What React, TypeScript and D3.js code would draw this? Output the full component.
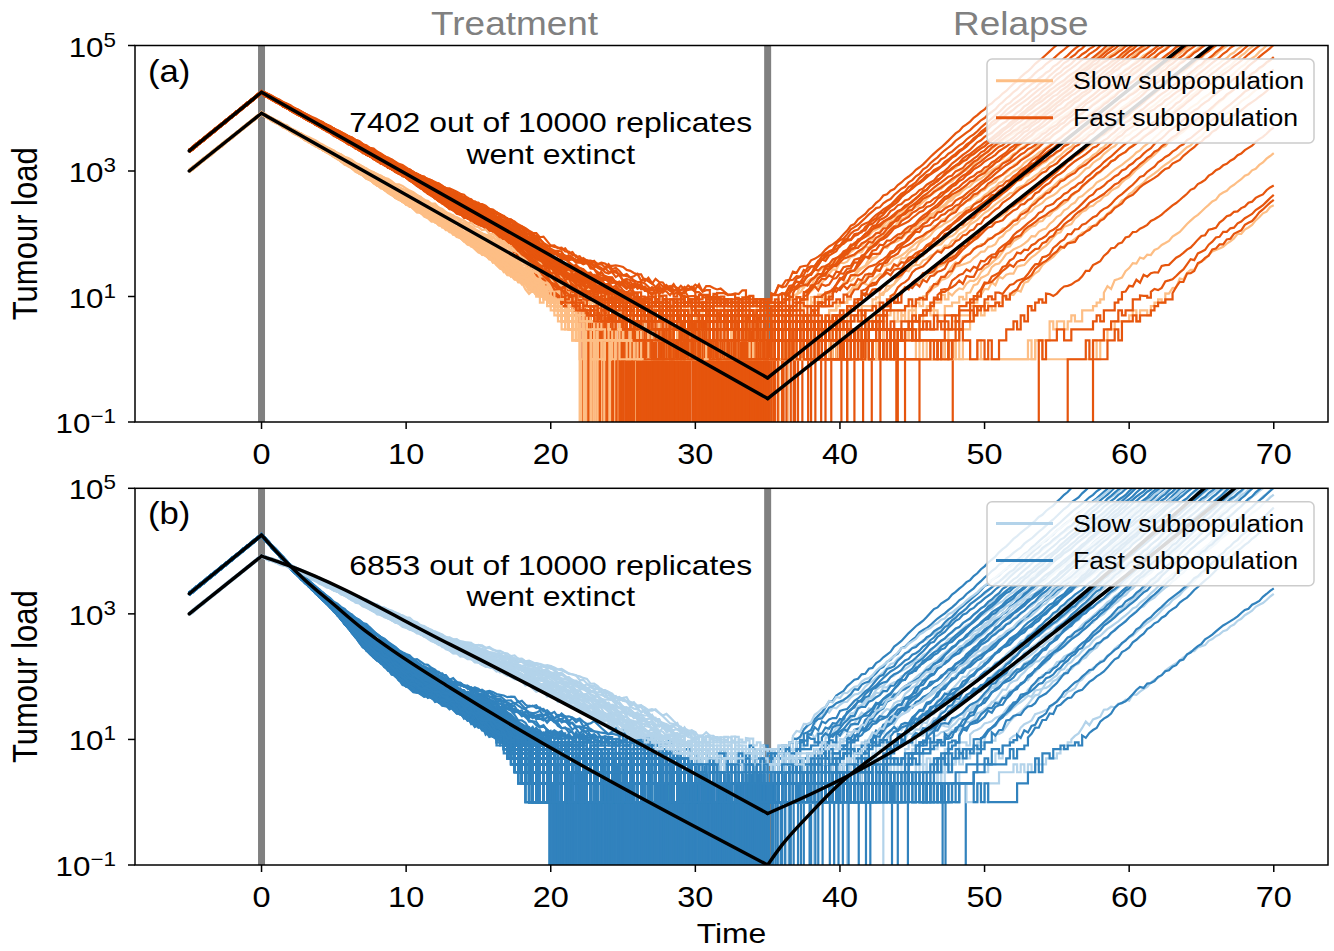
import React from 'react';
import * as d3 from 'd3';

// ---------------- layout ----------------
const W = 1334, H = 951;
const X0 = 135, X1 = 1328;
const PANEL_TOP = [45.5, 488.3];
const PANEL_BOTTOM = [422, 865];
const SX = 1.12; // horizontal text stretch
const FONT = '"Liberation Sans", Arial, Helvetica, sans-serif';

// ---------------- axes data ----------------
const X_DOMAIN = [-8.75, 73.75];
const X_TICKS = [0, 10, 20, 30, 40, 50, 60, 70];
const Y_TICKS = [0.1, 10, 1000, 100000];
const Y_TICK_EXP = ['\u22121', '1', '3', '5'];
const PHASE_LABELS = ['Treatment', 'Relapse'];
const PHASE_CENTERS = [17.5, 52.5];
const EVENT_TIMES = [0, 35];
const PANEL_LABELS = ['(a)', '(b)'];
const EXTINCT_COUNTS = [7402, 6853];
const REPLICATES = 10000;
const LEGEND_LABELS = ['Slow subpopulation', 'Fast subpopulation'];
const COLORS_A = ['#fdbe85', '#e6550d'];
const COLORS_B = ['#b3d3ea', '#3182bd'];

// ---------------- black (deterministic) curves: [time], [log10 load] ----------------
const A_BLACK_FAST_T = [-5, 0, 35, 70];
const A_BLACK_FAST_L = [3.32, 4.255, -0.298, 6.14];
const A_BLACK_SLOW_T = [-5, 0, 35, 70];
const A_BLACK_SLOW_L = [3.0, 3.92, -0.627, 5.78];
const B_BLACK_FAST_T = [-5, 0, 1, 2, 3, 4, 5, 6, 7, 8, 10, 13.07, 35, 36, 37.7, 40, 43, 50.3, 58, 65.2, 70];
const B_BLACK_FAST_L = [3.32, 4.255, 4.0, 3.76, 3.54, 3.34, 3.15, 2.95, 2.76, 2.59, 2.27, 1.82, -1.0, -0.68, -0.24, 0.3, 0.84, 2.08, 3.55, 5.0, 5.95];
const B_BLACK_SLOW_T = [-5, 0, 0.5, 1.75, 13.07, 35, 38, 41.4, 45, 52, 60, 67.3, 70];
const B_BLACK_SLOW_L = [3.0, 3.92, 3.88, 3.78, 2.51, -0.18, 0.13, 0.52, 1.0, 2.2, 3.65, 5.0, 5.5];

// ---------------- replicate bands during treatment (log10 load) ----------------
const A_FAST_BAND_T = [0, 5, 10, 13, 16.5, 20, 23.5, 27, 30, 35];
const A_FAST_BAND_HI = [4.27, 3.68, 3.05, 2.7, 2.33, 1.82, 1.53, 1.25, 1.12, 0.95];
const A_FAST_BAND_LO = [4.24, 3.58, 2.9, 2.42, 1.98, 1.12, 0.45, 0.05, 0.0, 0.0];
const A_SLOW_BAND_T = [0, 5, 10, 13, 15, 20, 22, 25, 30, 35];
const A_SLOW_BAND_HI = [3.93, 3.32, 2.72, 2.34, 2.1, 1.5, 1.3, 1.0, 0.8, 0.8];
const A_SLOW_BAND_LO = [3.91, 3.24, 2.48, 2.06, 1.75, 0.9, 0.3, 0.0, 0.0, 0.0];
const B_FAST_BAND_T = [0, 2, 5, 7.3, 10, 13, 16.5, 18.5, 20, 23.4, 27, 30.4, 33, 35];
const B_FAST_BAND_HI = [4.26, 3.78, 3.18, 2.82, 2.34, 1.97, 1.68, 1.56, 1.47, 1.15, 0.95, 0.8, 0.68, 0.72];
const B_FAST_BAND_LO = [4.25, 3.73, 3.06, 2.42, 1.86, 1.55, 1.0, 0.2, 0.0, 0.0, 0.0, 0.0, 0.0, 0.0];
const B_SLOW_BAND_T = [0, 1.75, 13, 20, 23.4, 27, 30.4, 33, 35];
const B_SLOW_BAND_HI = [3.93, 3.8, 2.62, 2.17, 1.85, 1.45, 1.08, 0.95, 0.88];
const B_SLOW_BAND_LO = [3.91, 3.76, 2.42, 1.7, 1.25, 0.85, 0.45, 0.25, 0.15];

// ---------------- replicates ----------------
// extinct: [band position, extinction time]
const A_FAST_EXTINCT = [
  [0.05, 22.2], [0.15, 22.4], [0.0, 22.9], [0.1, 23.1], [0.25, 23.3], [0.05, 23.6], [0.2, 23.8], [0.3, 24.1], [0.1, 24.2], [0.0, 24.5],
  [0.35, 24.7], [0.15, 24.8], [0.2, 25.2], [0.05, 25.4], [0.4, 25.5], [0.1, 25.8], [0.25, 25.9], [0.3, 26.2], [0.0, 26.4], [0.45, 26.5],
  [0.15, 26.8], [0.2, 27.0], [0.35, 27.1], [0.1, 27.4], [0.3, 27.6], [0.05, 27.7], [0.4, 28.0], [0.2, 28.2], [0.5, 28.3], [0.15, 28.6],
  [0.25, 28.8], [0.35, 28.9], [0.1, 29.2], [0.45, 29.4], [0.3, 29.5], [0.2, 29.8], [0.05, 30.0], [0.4, 30.1], [0.5, 30.4], [0.15, 30.5],
  [0.25, 30.8], [0.35, 30.9], [0.1, 31.2], [0.45, 31.3], [0.2, 31.5], [0.55, 31.8], [0.3, 31.9], [0.05, 32.2], [0.4, 32.3], [0.25, 32.5],
  [0.5, 32.8], [0.15, 32.9], [0.35, 33.1], [0.45, 33.3], [0.2, 33.4], [0.6, 33.6], [0.3, 33.8], [0.1, 33.9], [0.5, 34.1], [0.4, 34.2],
  [0.25, 34.4], [0.55, 34.6], [0.35, 34.7], [0.15, 34.8], [0.45, 34.9], [0.6, 35.0], [0.3, 35.4], [0.2, 35.7], [0.5, 36.0], [0.1, 36.3],
  [0.4, 36.6], [0.25, 36.9], [0.35, 37.4], [0.15, 37.8], [0.45, 38.3], [0.2, 38.7], [0.3, 39.4], [0.1, 40.1], [0.4, 41.0], [0.25, 42.2],
  [0.2, 43.9], [0.1, 47.8],
  [0.12, 22.6], [0.28, 23.4], [0.08, 23.9], [0.18, 24.3], [0.02, 24.9], [0.33, 25.0], [0.22, 25.6], [0.12, 26.0], [0.38, 26.1], [0.05, 26.6],
  [0.27, 26.9], [0.17, 27.2], [0.42, 27.8], [0.08, 27.9], [0.32, 28.4], [0.22, 28.5], [0.12, 29.0], [0.47, 29.1], [0.02, 29.6], [0.37, 29.9],
  [0.27, 30.2], [0.17, 30.6], [0.52, 30.7], [0.07, 31.0], [0.42, 31.4], [0.32, 31.6], [0.12, 31.7], [0.22, 32.0], [0.47, 32.1], [0.02, 32.4],
  [0.37, 32.6], [0.57, 32.7], [0.17, 33.0], [0.27, 33.2], [0.42, 33.5], [0.07, 33.7], [0.52, 33.8], [0.32, 34.0], [0.22, 34.3], [0.47, 34.5],
  [0.12, 34.6], [0.62, 34.75], [0.37, 34.85], [0.27, 34.95], [0.55, 35.1], [0.42, 35.25], [0.18, 35.5], [0.33, 36.1], [0.48, 36.8], [0.23, 37.1],
  [0.13, 38.0], [0.38, 39.0], [0.28, 40.5], [0.18, 41.6], [0.33, 42.8], [0.2, 44.5],
  [0.08, 24.55], [0.22, 24.75], [0.14, 24.95], [0.31, 25.15], [0.04, 25.35], [0.19, 25.45], [0.27, 25.65], [0.11, 25.75], [0.36, 25.95], [0.06, 26.15],
  [0.24, 26.3], [0.16, 26.45], [0.41, 26.7], [0.09, 26.85], [0.29, 26.95], [0.21, 27.15], [0.03, 27.3], [0.34, 27.45], [0.18, 27.55], [0.46, 27.85],
  [0.12, 28.05], [0.26, 28.15], [0.39, 28.45], [0.07, 28.65], [0.31, 28.75], [0.2, 28.95], [0.44, 29.05], [0.13, 29.25], [0.35, 29.35], [0.02, 29.55],
  [0.24, 29.65], [0.49, 29.85], [0.16, 29.95], [0.38, 30.25], [0.1, 30.35], [0.29, 30.55], [0.53, 30.65], [0.21, 30.85], [0.04, 31.05], [0.42, 31.15],
  [0.33, 31.35], [0.15, 31.45], [0.58, 31.65], [0.26, 31.75], [0.09, 31.95], [0.47, 32.05], [0.37, 32.25], [0.19, 32.35], [0.54, 32.55], [0.3, 32.65],
  [0.06, 32.85], [0.43, 32.95], [0.23, 33.05], [0.61, 33.25], [0.35, 33.35], [0.14, 33.55], [0.49, 33.65], [0.28, 33.85], [0.56, 33.95], [0.39, 34.05],
  [0.18, 34.15], [0.63, 34.35], [0.33, 34.45], [0.48, 34.55], [0.24, 34.65], [0.58, 34.8], [0.41, 34.9], [0.52, 34.98],
];
// survivors: [band position, time growth resumes, time reaching 1e5]
const A_FAST_SURVIVE = [
  [1.0, 35, 55.0], [0.95, 35, 55.8], [0.9, 35, 56.5], [0.85, 35, 57.0], [0.95, 35, 57.6], [0.8, 35, 58.0], [0.75, 35, 58.5], [0.9, 35.5, 59.0],
  [0.7, 35, 59.3], [0.85, 36, 59.8], [0.65, 35.5, 60.2], [0.8, 36.5, 60.6], [0.6, 36, 61.0], [0.75, 37, 61.4], [0.7, 37.5, 62.0], [0.55, 37, 62.4],
  [0.65, 38, 62.9], [0.5, 38.5, 63.4], [0.6, 39, 64.0], [0.7, 40, 64.6], [0.55, 40.5, 65.2], [0.45, 41, 65.9], [0.6, 42, 66.6], [0.5, 42.5, 67.3],
  [0.4, 43.5, 68.2], [0.55, 44.5, 69.0], [0.35, 45.5, 70.0], [0.5, 46.5, 71.0], [0.3, 47, 72], [0.45, 48, 73.5], [0.2, 50, 77.5],
];
// re-seeded after extinction: [band position, extinction time, re-seeding time, time reaching 1e5]
const A_FAST_RESEEDED = [[0.2, 40.5, 53.6, 83.0], [0.15, 44.0, 55.7, 83.0], [0.1, 45.5, 57.5, 82.0]];
const A_SLOW_EXTINCT = [
  [0.1, 23.4], [0.0, 23.6], [0.2, 23.8], [0.05, 24.0], [0.15, 24.2], [0.3, 24.4], [0.0, 24.6], [0.1, 24.9], [0.25, 25.2], [0.05, 25.6],
  [0.35, 26.0], [0.15, 26.5], [0.2, 27.2], [0.1, 28.3], [0.3, 29.5], [0.05, 31.0], [0.2, 32.6], [0.4, 34.2], [0.15, 34.9], [0.25, 35.3],
  [0.1, 35.8], [0.3, 36.4], [0.2, 38.0],
  [0.02, 22.0], [0.12, 22.4], [0.07, 22.8], [0.18, 23.1], [0.22, 23.5], [0.03, 23.9], [0.28, 24.7], [0.14, 25.0], [0.08, 25.4], [0.2, 25.9],
  [0.33, 29.0], [0.1, 30.3], [0.25, 33.2], [0.18, 35.1],
  [0.05, 22.1], [0.15, 22.3], [0.0, 22.55], [0.25, 22.7], [0.1, 22.95], [0.2, 23.25], [0.03, 23.45], [0.3, 23.7], [0.12, 24.1], [0.22, 24.35],
  [0.08, 24.55],
];
const A_SLOW_SURVIVE = [
  [0.9, 35, 58.8], [0.8, 35.5, 59.6], [0.95, 35, 60.4], [0.7, 36.5, 61.2], [0.85, 37, 62.0], [0.6, 37.5, 62.7], [0.75, 38.5, 63.5], [0.5, 39, 64.3],
  [0.65, 40, 65.0], [0.55, 41, 66.0], [0.45, 42, 66.8], [0.6, 43, 67.8], [0.4, 44, 68.6], [0.5, 45, 69.6], [0.35, 46, 71], [0.3, 47.5, 72.5],
  [0.1, 53, 79], [0.05, 57, 83.7],
];
const B_FAST_EXTINCT = [
  [0.05, 19.9], [0.0, 20.2], [0.1, 20.4], [0.05, 20.7], [0.15, 20.9], [0.0, 21.1], [0.2, 21.4], [0.1, 21.6], [0.05, 21.8], [0.25, 22.1],
  [0.15, 22.3], [0.0, 22.6], [0.3, 22.8], [0.1, 23.0], [0.2, 23.2], [0.05, 23.5], [0.35, 23.7], [0.15, 23.9], [0.25, 24.1], [0.0, 24.4],
  [0.3, 24.6], [0.1, 24.8], [0.4, 25.0], [0.2, 25.3], [0.05, 25.5], [0.35, 25.7], [0.15, 25.9], [0.25, 26.2], [0.45, 26.4], [0.1, 26.6],
  [0.3, 26.8], [0.2, 27.1], [0.05, 27.3], [0.4, 27.5], [0.15, 27.7], [0.35, 28.0], [0.25, 28.2], [0.5, 28.4], [0.1, 28.6], [0.3, 28.9],
  [0.2, 29.1], [0.45, 29.3], [0.05, 29.5], [0.35, 29.8], [0.15, 30.0], [0.55, 30.2], [0.25, 30.4], [0.4, 30.7], [0.1, 30.9], [0.3, 31.1],
  [0.5, 31.3], [0.2, 31.5], [0.45, 31.8], [0.05, 32.0], [0.35, 32.2], [0.6, 32.4], [0.15, 32.6], [0.4, 32.9], [0.25, 33.1], [0.55, 33.3],
  [0.3, 33.5], [0.1, 33.7], [0.5, 33.9], [0.65, 34.1], [0.2, 34.3], [0.45, 34.5], [0.35, 34.7], [0.6, 34.9], [0.3, 35.4], [0.5, 35.7],
  [0.2, 35.9], [0.4, 36.2], [0.6, 36.5], [0.1, 36.8], [0.35, 37.1], [0.25, 37.5], [0.45, 37.9], [0.15, 38.3], [0.3, 38.8], [0.5, 39.3],
  [0.2, 39.9], [0.4, 40.6], [0.1, 41.3], [0.3, 42.1], [0.25, 43.6], [0.35, 44.7], [0.2, 47.1], [0.15, 47.3], [0.3, 48.7],
  [0.02, 20.0], [0.08, 20.5], [0.12, 20.8], [0.03, 21.2], [0.18, 21.5], [0.07, 21.9], [0.22, 22.2], [0.13, 22.5], [0.04, 22.9], [0.27, 23.1],
  [0.17, 23.4], [0.08, 23.8], [0.32, 24.0], [0.22, 24.3], [0.12, 24.7], [0.37, 24.9], [0.03, 25.2], [0.27, 25.4], [0.17, 25.8], [0.42, 26.0],
  [0.07, 26.3], [0.32, 26.5], [0.22, 26.9], [0.47, 27.0], [0.12, 27.4], [0.37, 27.6], [0.27, 27.9], [0.02, 28.1], [0.42, 28.3], [0.17, 28.7],
  [0.52, 28.8], [0.32, 29.0], [0.07, 29.4], [0.47, 29.6], [0.22, 29.9], [0.37, 30.1], [0.12, 30.5], [0.57, 30.6], [0.27, 30.8], [0.42, 31.0],
  [0.02, 31.4], [0.32, 31.6], [0.52, 31.9], [0.17, 32.1], [0.47, 32.3], [0.27, 32.7], [0.62, 32.8], [0.07, 33.0], [0.37, 33.2], [0.22, 33.4],
  [0.57, 33.6], [0.42, 33.8], [0.12, 34.0], [0.67, 34.2], [0.32, 34.4], [0.5, 34.6], [0.27, 34.8], [0.62, 34.95], [0.4, 35.1], [0.55, 35.3],
  [0.2, 35.55], [0.45, 36.0], [0.3, 36.6], [0.5, 37.3], [0.15, 38.0], [0.35, 38.5], [0.25, 39.6], [0.4, 40.2], [0.2, 41.8], [0.3, 44.0],
  [0.04, 20.1], [0.12, 20.3], [0.07, 20.6], [0.19, 20.75], [0.02, 21.0], [0.14, 21.3], [0.24, 21.45], [0.09, 21.7], [0.17, 22.0], [0.29, 22.15],
  [0.05, 22.4], [0.21, 22.7], [0.34, 22.95], [0.11, 23.1], [0.26, 23.3], [0.16, 23.6], [0.39, 23.85], [0.06, 24.0], [0.31, 24.2], [0.2, 24.5],
  [0.44, 24.75], [0.1, 24.85], [0.36, 25.1], [0.25, 25.35], [0.15, 25.6], [0.48, 25.75], [0.03, 26.1], [0.3, 26.25], [0.4, 26.55], [0.19, 26.7],
  [0.53, 26.95], [0.09, 27.2], [0.34, 27.35], [0.24, 27.65], [0.46, 27.8], [0.14, 28.05], [0.57, 28.25], [0.29, 28.5], [0.04, 28.7], [0.39, 28.95],
  [0.2, 29.2], [0.51, 29.45], [0.33, 29.7], [0.11, 29.85], [0.44, 30.3], [0.25, 30.45], [0.6, 30.75], [0.16, 31.2], [0.37, 31.25], [0.49, 31.55],
  [0.07, 31.7], [0.28, 32.0], [0.55, 32.15], [0.41, 32.5], [0.19, 32.6], [0.64, 32.95], [0.32, 33.1], [0.47, 33.3], [0.13, 33.45], [0.58, 33.7],
  [0.38, 33.95], [0.24, 34.1], [0.66, 34.35], [0.44, 34.55], [0.3, 34.7], [0.56, 34.85], [0.5, 35.0],
];
const B_FAST_SURVIVE = [
  [1.0, 35.2, 56.0], [0.95, 35.5, 57.2], [0.9, 36, 58.0], [0.85, 36.2, 58.5], [0.95, 36.8, 59.0], [0.8, 37, 59.4], [0.75, 37.3, 59.8],
  [0.9, 37.8, 60.2], [0.7, 38, 60.5], [0.85, 38.3, 60.9], [0.65, 38.6, 61.2], [0.8, 39, 61.5], [0.6, 39.2, 61.9], [0.75, 39.5, 62.2],
  [0.7, 39.8, 62.5], [0.55, 40.2, 62.9], [0.65, 40.5, 63.2], [0.5, 40.9, 63.6], [0.6, 41.2, 64.0], [0.7, 41.5, 64.3], [0.55, 41.9, 64.7],
  [0.45, 42.3, 65.1], [0.6, 42.7, 65.5], [0.5, 43.1, 65.9], [0.4, 43.6, 66.4], [0.55, 44, 66.9], [0.35, 44.5, 67.4], [0.5, 45, 67.9],
  [0.3, 45.6, 68.5], [0.45, 46.2, 69.1], [0.4, 47, 70.0], [0.25, 48, 71.5], [0.35, 49, 72.5], [0.2, 51.5, 79.0],
];
const B_FAST_RESEEDED: number[][] = [];
const B_SLOW_EXTINCT = [
  [0.2, 30.5], [0.1, 32.0], [0.3, 33.4], [0.05, 34.2], [0.15, 34.8], [0.25, 35.6], [0.1, 36.3], [0.2, 38.2], [0.05, 40.5], [0.15, 43.0],
];
const B_SLOW_SURVIVE = [
  [0.95, 36, 59.5], [0.85, 37, 60.5], [0.9, 37.5, 61.3], [0.75, 38, 62.0], [0.8, 39, 62.8], [0.65, 39.5, 63.4], [0.7, 40.5, 64.2],
  [0.55, 41, 64.8], [0.6, 42, 65.6], [0.5, 42.5, 66.2], [0.45, 43.5, 67.0], [0.55, 44, 67.6], [0.4, 45, 68.4], [0.35, 46, 69.2],
  [0.3, 47, 70.5], [0.25, 48.5, 72], [0.2, 51.5, 80.5],
  [0.98, 35.5, 58.8], [0.78, 38.5, 62.4], [0.62, 40, 63.8], [0.48, 43, 66.6], [0.42, 44.5, 68], [0.32, 46.5, 70],
];

// hand-typed fluctuation patterns (demographic noise shape)
const JITTER_SLOW = [0.1, 0.3, 0.5, 0.4, 0.7, 0.9, 0.6, 0.8, 0.5, 0.2, 0.0, -0.3, -0.1, -0.4, -0.6, -0.5, -0.8, -0.9, -0.7, -0.4, -0.5, -0.2, 0.1, 0.0,
  0.3, 0.6, 0.4, 0.2, 0.5, 0.8, 1.0, 0.7, 0.4, 0.1, -0.2, 0.0, -0.3, -0.6, -0.4, -0.7, -1.0, -0.8, -0.5, -0.6, -0.3, -0.1, -0.2];
const JITTER_FAST = [0.5, -0.2, 0.3, 0.8, 0.1, -0.5, -0.1, 0.4, -0.3, -0.8, -0.2, 0.6, 0.2, -0.4, 0.9, 0.3, -0.6, 0.0, 0.7, -0.7, -0.1,
  0.5, -0.9, 0.2, 0.4, -0.5, 0.1, -0.3, 0.6];

// ---------------- helpers ----------------
const DT = 0.25;
function knot(ts: number[], vs: number[], t: number) {
  if (t <= ts[0]) return vs[0];
  for (let i = 1; i < ts.length; i++) {
    if (t <= ts[i]) {
      const f = (t - ts[i - 1]) / (ts[i] - ts[i - 1]);
      return vs[i - 1] + f * (vs[i] - vs[i - 1]);
    }
  }
  return vs[vs.length - 1];
}

type Band = { t: number[]; hi: number[]; lo: number[] };
type Rep = { p: number; tExt?: number; tRise?: number; tTop?: number; tReborn?: number };
type Group = { band: Band; pre: [number, number] };

function bandL(b: Band, t: number, p: number) {
  const hi = knot(b.t, b.hi, t), lo = knot(b.t, b.lo, t);
  return lo + p * (hi - lo);
}

function jitter(k: number, s: number, L: number) {
  const n1 = JITTER_SLOW[(k + s * 17) % JITTER_SLOW.length];
  const n2 = JITTER_FAST[(k * 2 + s * 5) % JITTER_FAST.length];
  const amp = 0.018 + Math.min(0.26, 0.4 / Math.sqrt(Math.pow(10, Math.max(L, 0))));
  return amp * (0.65 * n1 + 0.45 * n2);
}

function buildRep(g: Group, r: Rep, seed: number): [number, number][] {
  const raw: [number, number][] = [];
  const L35 = bandL(g.band, 35, r.p);
  const N = Math.round(75 / DT);
  for (let k = 0; k <= N; k++) {
    const t = -5 + k * DT;
    let L: number;
    const reborn = r.tReborn != null && t >= r.tReborn;
    if (t <= 0) L = g.pre[0] + (g.pre[1] - g.pre[0]) * (t + 5) / 5;
    else if (t <= 35) L = bandL(g.band, t, r.p);
    else if (reborn) L = 5 * (t - (r.tReborn as number)) / ((r.tTop as number) - (r.tReborn as number));
    else if (r.tRise != null && r.tReborn == null && t >= r.tRise) L = L35 + (5 - L35) * (t - r.tRise) / ((r.tTop as number) - r.tRise);
    else L = L35;
    L += jitter(k, seed, L);
    let v = Math.pow(10, L);
    if (v < 9.5) v = Math.max(1, Math.round(v));
    const dead = r.tExt != null && t >= r.tExt && !reborn;
    if (dead) v = 0;
    raw.push([dead ? (r.tExt as number) : t, v]);
    if (dead && r.tReborn == null) break;
    if (L > 5.4) break;
  }
  // integer counts change in steps; large counts drawn as a continuous line
  const out: [number, number][] = [raw[0]];
  for (let i = 1; i < raw.length; i++) {
    const pv = raw[i - 1][1], cv = raw[i][1];
    if ((pv < 10 || cv < 10) && pv !== cv) out.push([raw[i][0], pv]);
    out.push(raw[i]);
  }
  return out;
}

const toExt = (a: number[][]): Rep[] => a.map(d => ({ p: d[0], tExt: d[1] }));
const toSurv = (a: number[][]): Rep[] => a.map(d => ({ p: d[0], tRise: d[1], tTop: d[2] }));
const toReb = (a: number[][]): Rep[] => a.map(d => ({ p: d[0], tExt: d[1], tReborn: d[2], tTop: d[3] }));

type PanelCfg = {
  slow: Group; fast: Group;
  slowExt: Rep[]; fastExt: Rep[]; slowSurv: Rep[]; fastSurv: Rep[]; fastReb: Rep[];
  colors: string[];
  black: { t: number[]; l: number[] }[];
  label: string; extinct: number;
};

const PANELS: PanelCfg[] = [
  {
    slow: { band: { t: A_SLOW_BAND_T, hi: A_SLOW_BAND_HI, lo: A_SLOW_BAND_LO }, pre: [3.0, 3.92] },
    fast: { band: { t: A_FAST_BAND_T, hi: A_FAST_BAND_HI, lo: A_FAST_BAND_LO }, pre: [3.32, 4.255] },
    slowExt: toExt(A_SLOW_EXTINCT), fastExt: toExt(A_FAST_EXTINCT),
    slowSurv: toSurv(A_SLOW_SURVIVE), fastSurv: toSurv(A_FAST_SURVIVE), fastReb: toReb(A_FAST_RESEEDED),
    colors: COLORS_A,
    black: [{ t: A_BLACK_FAST_T, l: A_BLACK_FAST_L }, { t: A_BLACK_SLOW_T, l: A_BLACK_SLOW_L }],
    label: PANEL_LABELS[0], extinct: EXTINCT_COUNTS[0],
  },
  {
    slow: { band: { t: B_SLOW_BAND_T, hi: B_SLOW_BAND_HI, lo: B_SLOW_BAND_LO }, pre: [3.0, 3.92] },
    fast: { band: { t: B_FAST_BAND_T, hi: B_FAST_BAND_HI, lo: B_FAST_BAND_LO }, pre: [3.32, 4.255] },
    slowExt: toExt(B_SLOW_EXTINCT), fastExt: toExt(B_FAST_EXTINCT),
    slowSurv: toSurv(B_SLOW_SURVIVE), fastSurv: toSurv(B_FAST_SURVIVE), fastReb: toReb(B_FAST_RESEEDED),
    colors: COLORS_B,
    black: [{ t: B_BLACK_FAST_T, l: B_BLACK_FAST_L }, { t: B_BLACK_SLOW_T, l: B_BLACK_SLOW_L }],
    label: PANEL_LABELS[1], extinct: EXTINCT_COUNTS[1],
  },
];

const xScale = d3.scaleLinear().domain(X_DOMAIN).range([X0, X1]);

function Panel({ cfg, idx }: { cfg: PanelCfg; idx: number }) {
  const top = PANEL_TOP[idx], bottom = PANEL_BOTTOM[idx];
  const y = d3.scaleLog().domain([0.1, 1e5]).range([bottom, top]);
  const line = d3.line<[number, number]>()
    .x(d => xScale(d[0]))
    .y(d => (d[1] <= 0 ? bottom + 40 : y(d[1])));
  const blackLine = d3.line<[number, number]>().x(d => xScale(d[0])).y(d => y(Math.pow(10, d[1]))).curve(d3.curveMonotoneX);
  const clipId = `clip${idx}`;
  const seedBase = idx * 1000;

  // draw order: extinct replicates interleaved, then survivors interleaved
  const items: { d: string; c: string }[] = [];
  const nE = Math.max(cfg.slowExt.length, cfg.fastExt.length);
  for (let i = 0; i < nE; i++) {
    if (i < cfg.slowExt.length) items.push({ d: line(buildRep(cfg.slow, cfg.slowExt[i], seedBase + i * 3 + 1)) as string, c: cfg.colors[0] });
    if (i < cfg.fastExt.length) items.push({ d: line(buildRep(cfg.fast, cfg.fastExt[i], seedBase + i * 3 + 2)) as string, c: cfg.colors[1] });
  }
  const nS = Math.max(cfg.slowSurv.length, cfg.fastSurv.length);
  for (let i = 0; i < nS; i++) {
    if (i < cfg.slowSurv.length) items.push({ d: line(buildRep(cfg.slow, cfg.slowSurv[i], seedBase + 700 + i * 3)) as string, c: cfg.colors[0] });
    if (i < cfg.fastSurv.length) items.push({ d: line(buildRep(cfg.fast, cfg.fastSurv[i], seedBase + 701 + i * 3)) as string, c: cfg.colors[1] });
  }
  cfg.fastReb.forEach((r, i) => items.push({ d: line(buildRep(cfg.fast, r, seedBase + 900 + i * 7)) as string, c: cfg.colors[1] }));

  // black curves split into the three phases (sharp corners at 0 and 35)
  const blackSegs: string[] = [];
  cfg.black.forEach(b => {
    const pts = b.t.map((t, j) => [t, b.l[j]] as [number, number]);
    [[-5, 0], [0, 35], [35, 70]].forEach(([a, c]) => {
      blackSegs.push(blackLine(pts.filter(p => p[0] >= a && p[0] <= c)) as string);
    });
  });

  const legendY = 59 + (top - PANEL_TOP[0]);
  const annX = xScale(20);

  return (
    <g>
      <defs>
        <clipPath id={clipId}>
          <rect x={X0} y={top} width={X1 - X0} height={bottom - top} />
        </clipPath>
      </defs>
      <g clipPath={`url(#${clipId})`}>
        {EVENT_TIMES.map(t => (
          <line key={t} x1={xScale(t)} x2={xScale(t)} y1={top} y2={bottom} stroke="#808080" strokeWidth={7} />
        ))}
        {items.map((it, i) => (
          <path key={i} d={it.d} fill="none" stroke={it.c} strokeWidth={2.2} />
        ))}
        {blackSegs.map((d, i) => (
          <path key={i} d={d} fill="none" stroke="#000" strokeWidth={3.4} strokeLinecap="round" />
        ))}
      </g>
      {/* spines */}
      <rect x={X0} y={top} width={X1 - X0} height={bottom - top} fill="none" stroke="#000" strokeWidth={1.5} />
      {/* x ticks */}
      {X_TICKS.map(t => (
        <g key={t}>
          <line x1={xScale(t)} x2={xScale(t)} y1={bottom} y2={bottom + 7} stroke="#000" strokeWidth={1.5} />
          <text transform={`translate(${xScale(t)},${bottom + 42}) scale(${SX},1)`} textAnchor="middle" fontSize={29}>{t}</text>
        </g>
      ))}
      {/* y ticks */}
      {Y_TICKS.map((v, i) => (
        <g key={v}>
          <line x1={X0 - 7} x2={X0} y1={y(v)} y2={y(v)} stroke="#000" strokeWidth={1.5} />
          <text transform={`translate(116,${y(v) + 11}) scale(${SX},1)`} textAnchor="end" fontSize={28}>
            <tspan>10</tspan>
            <tspan dy={-10} fontSize={20}>{Y_TICK_EXP[i]}</tspan>
          </text>
        </g>
      ))}
      {/* y label */}
      <text transform={`translate(37,${(top + bottom) / 2}) scale(${SX},1) rotate(-90)`} textAnchor="middle" fontSize={31}>Tumour load</text>
      {/* panel label */}
      <text transform={`translate(148,${top + 36}) scale(${SX},1)`} fontSize={31}>{cfg.label}</text>
      {/* annotation */}
      <text transform={`translate(${annX},${top + 86.5}) scale(${SX},1)`} textAnchor="middle" fontSize={28.5}>{`${cfg.extinct} out of ${REPLICATES} replicates`}</text>
      <text transform={`translate(${annX},${top + 118}) scale(${SX},1)`} textAnchor="middle" fontSize={28.5}>went extinct</text>
      {/* legend */}
      <rect x={987} y={legendY} width={327} height={84} rx={5} fill="#fff" fillOpacity={0.85} stroke="#cccccc" strokeWidth={1.5} />
      {LEGEND_LABELS.map((lab, i) => (
        <g key={lab}>
          <line x1={996} x2={1053} y1={legendY + 21.7 + i * 37} y2={legendY + 21.7 + i * 37} stroke={cfg.colors[i]} strokeWidth={3} />
          <text transform={`translate(1073,${legendY + 30.3 + i * 37}) scale(${SX},1)`} fontSize={23.8}>{lab}</text>
        </g>
      ))}
    </g>
  );
}

export default function App() {
  return (
    <svg width={W} height={H} style={{ position: 'absolute', left: 0, top: 0, background: '#fff' }} fontFamily={FONT}>
      <rect x={0} y={0} width={W} height={H} fill="#fff" />
      {PHASE_LABELS.map((lab, i) => (
        <text key={lab} transform={`translate(${xScale(PHASE_CENTERS[i])},35) scale(${SX},1)`} textAnchor="middle" fontSize={33} fill="#808080">{lab}</text>
      ))}
      {PANELS.map((cfg, i) => <Panel key={i} cfg={cfg} idx={i} />)}
      <text transform={`translate(${(X0 + X1) / 2},943) scale(${SX},1)`} textAnchor="middle" fontSize={28.5}>Time</text>
    </svg>
  );
}
